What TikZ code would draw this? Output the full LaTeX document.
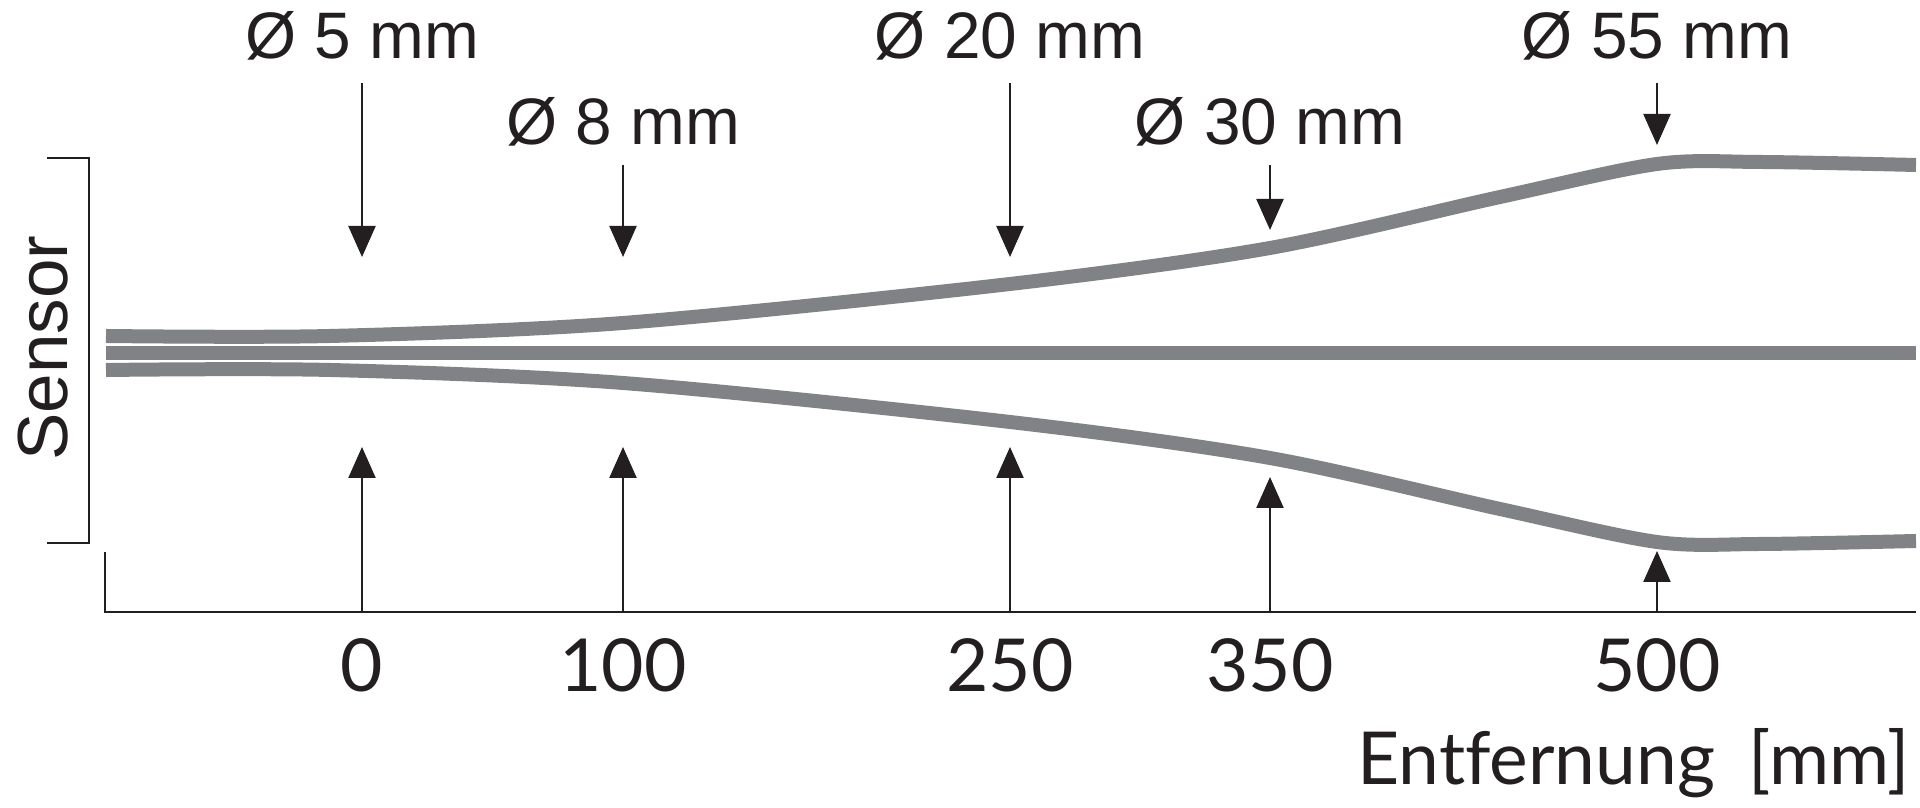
\documentclass[tikz,border=0pt]{standalone}
\usepackage{fontspec}
\setmainfont{Liberation Sans}
\newfontfamily\axisfont[Ligatures=NoCommon]{Lato}
\usetikzlibrary{arrows.meta}

\definecolor{beamgray}{RGB}{128,130,133}
\definecolor{ink}{RGB}{35,31,32}

\tikzset{
  beam/.style={line width=1.4mm, beamgray},
  pointer/.style={ink, line width=0.65pt, -{Triangle[length=3.1mm,width=2.7mm]}},
  axisline/.style={ink, line width=0.7pt},
  dialabel/.style={font=\fontsize{18.7}{22}\selectfont, text=ink, anchor=base, inner sep=0pt},
  ticklabel/.style={font=\axisfont\fontsize{20.8}{24}\selectfont, text=ink, anchor=base, inner sep=0pt},
}

\begin{document}
\begin{tikzpicture}[x=0.1mm, y=0.1mm]
\useasboundingbox (0,0) rectangle (1920,808);

% sensor bracket and axes
\draw [axisline] (47,650) -- (89,650) -- (89,265) -- (47,265);
\node [font=\fontsize{20.2}{24}\selectfont, text=ink, rotate=90, inner sep=0pt] (sensor) at (43,460) {Sensor};
\draw [axisline] (105,256) -- (105,196) -- (1916,196);

% light beam
\draw [beam] (106,455) -- (1916,455);
\draw [beam] plot [smooth, tension=0.5] coordinates {(106,472) (330,472) (623,485) (1010,524) (1270,560) (1500,611) (1657,644) (1760,646) (1916,643)};
\draw [beam] plot [smooth, tension=0.5] coordinates {(106,438) (330,438) (623,425) (1010,386) (1270,350) (1500,299) (1657,266) (1760,264) (1916,267)};

% diameters
\node [dialabel] (d5)  at (362,749)  {Ø 5 mm};
\node [dialabel] (d8)  at (623,663)  {Ø 8 mm};
\node [dialabel] (d20) at (1010,749) {Ø 20 mm};
\node [dialabel] (d30) at (1270,663) {Ø 30 mm};
\node [dialabel] (d55) at (1657,749) {Ø 55 mm};

\coordinate (t5)  at (362,725);
\coordinate (t8)  at (623,643);
\coordinate (t20) at (1010,725);
\coordinate (t30) at (1270,643);
\coordinate (t55) at (1657,725);
\coordinate (h5)  at (362,551);
\coordinate (h8)  at (623,551);
\coordinate (h20) at (1010,551);
\coordinate (h30) at (1270,578);
\coordinate (h55) at (1657,663);

\draw [pointer] (t5) -- (h5);
\draw [pointer] (t8) -- (h8);
\draw [pointer] (t20) -- (h20);
\draw [pointer] (t30) -- (h30);
\draw [pointer] (t55) -- (h55);

% distances
\coordinate (a0)   at (362,196);
\coordinate (a100) at (623,196);
\coordinate (a250) at (1010,196);
\coordinate (a350) at (1270,196);
\coordinate (a500) at (1657,196);
\coordinate (b0)   at (362,361);
\coordinate (b100) at (623,361);
\coordinate (b250) at (1010,361);
\coordinate (b350) at (1270,331);
\coordinate (b500) at (1657,257);

\draw [pointer] (a0) -- (b0);
\draw [pointer] (a100) -- (b100);
\draw [pointer] (a250) -- (b250);
\draw [pointer] (a350) -- (b350);
\draw [pointer] (a500) -- (b500);

\node [ticklabel] (n0)   at (362,116)  {0};
\node [ticklabel] (n100) at (623,116)  {100};
\node [ticklabel] (n250) at (1010,116) {250};
\node [ticklabel] (n350) at (1270,116) {350};
\node [ticklabel] (n500) at (1657,116) {500};

\node [ticklabel, anchor=base east] (dist) at (1910,23) {Entfernung\hspace{0.2em} [mm]};
\end{tikzpicture}
\end{document}
